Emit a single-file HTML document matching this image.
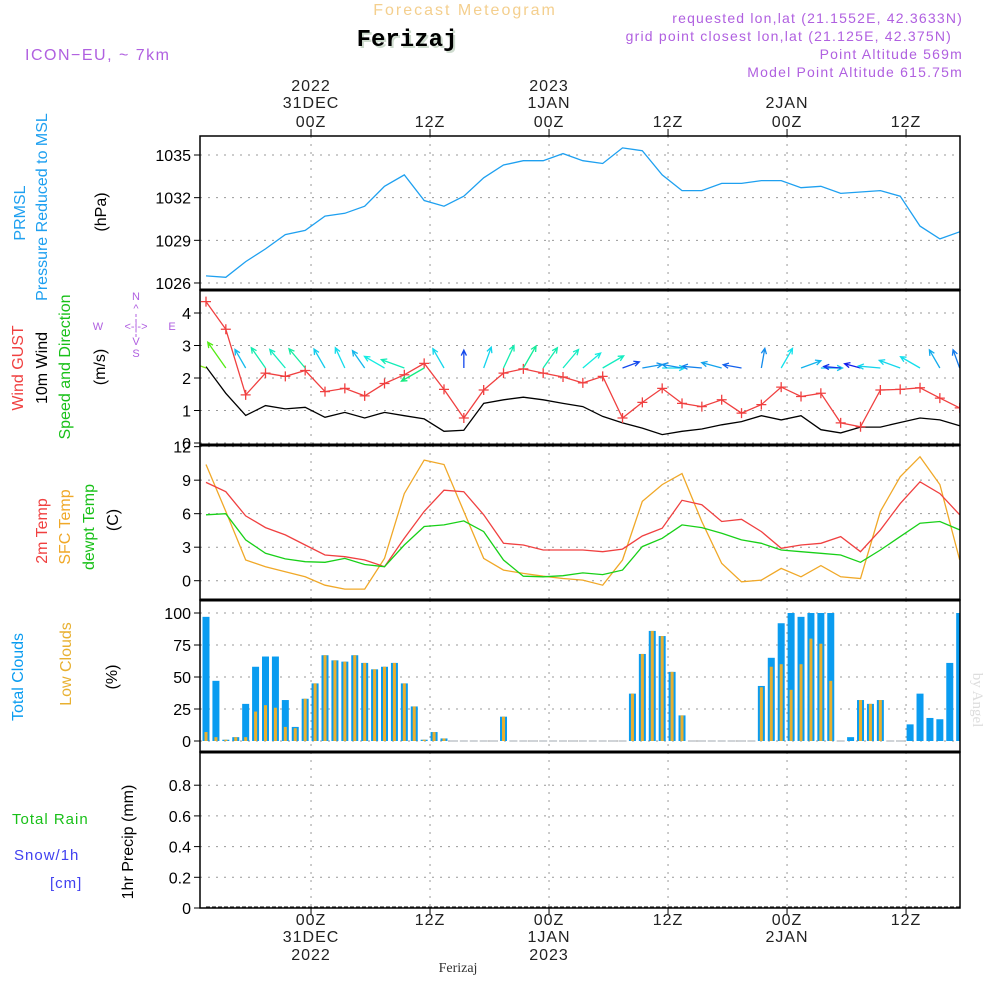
<!DOCTYPE html>
<html><head><meta charset="utf-8"><style>
html,body{margin:0;padding:0;background:#fff;}
svg{display:block;font-family:"Liberation Sans",sans-serif;}
</style></head><body>
<svg id="chart" width="1000" height="1000" viewBox="0 0 1000 1000">
<text x="465" y="15" font-size="16" fill="#f4cf8e" text-anchor="middle" letter-spacing="2">Forecast Meteogram</text>
<text x="409" y="48" font-size="24" font-weight="bold" font-family="Liberation Mono,monospace" fill="#cfdccf" text-anchor="middle">Ferizaj</text>
<text x="407" y="46" font-size="24" font-weight="bold" font-family="Liberation Mono,monospace" fill="#000" text-anchor="middle">Ferizaj</text>
<text x="25" y="60" font-size="16" fill="#b060e0" letter-spacing="1.5">ICON−EU, ~ 7km</text>
<g font-size="14" fill="#b060e0" text-anchor="end" letter-spacing="1.2">
<text x="963" y="23">requested lon,lat (21.1552E, 42.3633N)</text>
<text x="952" y="41">grid point closest lon,lat (21.125E, 42.375N)</text>
<text x="963" y="59">Point Altitude 569m</text>
<text x="963" y="77">Model Point Altitude 615.75m</text>
</g>
<g id="labels" font-size="16"></g>
<g id="plot"></g>
<text x="458" y="972" font-size="14" font-family="Liberation Serif,serif" fill="#333" text-anchor="middle">Ferizaj</text>
<text transform="translate(973,700) rotate(90)" font-size="15" font-family="Liberation Serif,serif" fill="#ddd" text-anchor="middle">by Angel</text>
</svg>
<script>
const pressure=[1026.5,1026.4,1027.5,1028.4,1029.4,1029.7,1030.7,1030.9,1031.4,1032.8,1033.6,1031.8,1031.4,1032.1,1033.4,1034.3,1034.6,1034.6,1035.1,1034.6,1034.4,1035.5,1035.3,1033.6,1032.5,1032.5,1033.0,1033.0,1033.2,1033.2,1032.7,1032.8,1032.3,1032.4,1032.5,1032.1,1030.0,1029.1,1029.6];
const gust=[4.35,3.5,1.48,2.15,2.05,2.23,1.58,1.68,1.45,1.83,2.1,2.45,1.65,0.77,1.63,2.15,2.28,2.15,2.03,1.85,2.05,0.77,1.25,1.68,1.22,1.12,1.33,0.92,1.18,1.72,1.43,1.53,0.62,0.5,1.63,1.65,1.7,1.38,1.08];
const wind=[2.35,1.53,0.85,1.15,1.05,1.1,0.79,0.94,0.77,0.94,0.84,0.74,0.36,0.39,1.22,1.33,1.41,1.33,1.22,1.12,0.82,0.62,0.46,0.26,0.36,0.43,0.56,0.66,0.84,0.71,0.84,0.41,0.31,0.49,0.49,0.63,0.77,0.71,0.53];
const windDir=[160,125,120,125,130,130,120,115,125,150,160,210,120,90,70,65,60,55,50,40,30,20,10,0,170,175,165,170,80,60,20,0,175,165,175,160,150,120,110];
const t2m=[8.8,7.97,5.8,4.75,4.1,3.2,2.3,2.15,1.85,1.25,3.8,6.2,8.1,7.97,5.9,3.35,3.2,2.75,2.75,2.75,2.6,2.83,4.0,4.7,7.2,6.8,5.3,5.5,4.4,2.9,3.2,3.35,3.95,2.6,4.55,6.9,8.85,7.8,5.9];
const tsfc=[10.4,6.2,1.85,1.25,0.8,0.35,-0.4,-0.75,-0.75,2.0,7.8,10.8,10.4,6.2,2.0,0.95,0.65,0.4,0.2,0.05,-0.4,1.85,7.1,8.6,9.6,5.3,1.55,-0.1,0.05,1.1,0.35,1.35,0.35,0.2,6.2,9.3,11.1,8.6,1.85];
const tdew=[5.9,6.0,3.65,2.45,1.95,1.7,1.65,2.0,1.45,1.25,3.2,4.85,5.0,5.35,4.4,1.85,0.4,0.35,0.45,0.7,0.55,0.95,3.05,3.8,5.0,4.75,4.25,3.65,3.35,2.75,2.6,2.45,2.3,1.65,2.75,3.95,5.15,5.3,4.55];
const totalClouds=[97,47,1,3,29,58,66,66,32,11,33,45,67,63,62,67,61,56,58,61,45,27,1,7,2,0,0,0,0,0,19,0,0,0,0,0,0,0,0,0,0,0,0,37,68,86,82,54,20,0,0,0,0,0,0,0,43,65,92,100,97,100,100,100,0,3,32,29,32,0,0,13,37,18,17,61,100];
const lowClouds=[7,3,1,3,3,23,28,26,11,10,33,45,67,63,62,67,61,56,58,61,45,27,1,7,2,0,0,0,0,0,19,0,0,0,0,0,0,0,0,0,0,0,0,37,68,86,82,54,20,0,0,0,0,0,0,0,42,58,60,40,60,80,76,47,0,0,32,29,32,0,0,0,0,0,0,0,0];
const precip=[0,0,0,0,0,0,0,0,0,0,0,0,0,0,0,0,0,0,0,0,0,0,0,0,0,0,0,0,0,0,0,0,0,0,0,0,0,0,0,0,0,0,0,0,0,0,0,0,0,0,0,0,0,0,0,0,0,0,0,0,0,0,0,0,0,0,0,0,0,0,0,0,0,0,0,0,0];
const pTicks=[1026,1029,1032,1035];
const wTicks=[0,1,2,3,4];
const tTicks=[0,3,6,9,12];
const cTicks=[0,25,50,75,100];
const rTicks=[0,0.2,0.4,0.6,0.8];
const rTickLabels=["0","0.2","0.4","0.6","0.8"];
const timeTicks=["00Z","12Z","00Z","12Z","00Z","12Z"];
const dayLabels=["31DEC","","1JAN","","2JAN",""];
const yearLabels=["2022","","2023","","",""];

const NS='http://www.w3.org/2000/svg';
const plot=document.getElementById('plot');
const labels=document.getElementById('labels');
const X0=200,X1=960;
const xh=h=>206+9.917*h;
const first00=10.59;
function mk(tag,attrs,parent){const e=document.createElementNS(NS,tag);for(const k in attrs)e.setAttribute(k,attrs[k]);(parent||plot).appendChild(e);return e;}
const panels=[
 {top:136,bot:290,y:v=>155+(1035-v)*14.22,ticks:pTicks,name:'pressure'},
 {top:290,bot:445,y:v=>443-v*32.5,ticks:wTicks,name:'wind'},
 {top:445,bot:600,y:v=>580.7-v*11.17,ticks:tTicks,name:'temperature'},
 {top:600,bot:752,y:v=>741-v*1.28,ticks:cTicks,name:'clouds'},
 {top:752,bot:908,y:v=>908-v*153.5,ticks:rTicks,name:'precip'}
];
panels.forEach(p=>{
 const g=mk('g',{});
 
 
 p.ticks.forEach((t,k)=>{
  const y=p.y(t);
  const l=mk('line',{x1:X0,x2:X1,y1:y,y2:y,stroke:'#999','stroke-dasharray':'2,6'},g);
  
  
  mk('line',{x1:X0-6,x2:X0,y1:y,y2:y,stroke:'#000'},g);
  const tx=mk('text',{x:X0-9,y:y+6,'font-size':16,'text-anchor':'end',fill:'#000'},g);
  tx.textContent=p.name==='precip'?rTickLabels[k]:String(t);
  
  
 });
 timeTicks.forEach((t,i)=>{
  const x=xh(first00+12*i);
  const l=mk('line',{x1:x,x2:x,y1:p.top,y2:p.bot,stroke:'#999','stroke-dasharray':'2,6'},g);
  
  
 });
 p.g=g;
});
timeTicks.forEach((t,i)=>{
 const x=xh(first00+12*i);
 mk('line',{x1:x,x2:x,y1:129,y2:136,stroke:'#000'});
 mk('line',{x1:x,x2:x,y1:908,y2:915,stroke:'#000'});
 const rows=[[yearLabels[i],91,960],[dayLabels[i],108,942],[t,127,925]];
 rows.forEach(r=>{
  if(!r[0])return;
  const a=mk('text',{x:x,y:r[1],'font-size':16,'text-anchor':'middle',fill:'#222','letter-spacing':1});
  a.textContent=r[0];
  
  
  const b=mk('text',{x:x,y:r[2],'font-size':16,'text-anchor':'middle',fill:'#222','letter-spacing':1});
  b.textContent=r[0];
  
  
 });
});
mk('defs',{}).innerHTML='<clipPath id="clip"><rect x="200" y="136" width="760" height="772"/></clipPath>';
const series=mk('g',{'clip-path':'url(#clip)'});
function line(arr,p,color,name,step){
 const pts=arr.map((v,i)=>xh(i*step).toFixed(1)+','+p.y(v).toFixed(1)).join(' ');
 const e=mk('polyline',{points:pts,fill:'none',stroke:color,'stroke-width':1.3},series);
 
 
 return e;
}
line(pressure,panels[0],'#1ea0f0','pressure-line',2);
line(wind,panels[1],'#000','wind-speed-line',2);
line(gust,panels[1],'#f04040','wind-gust-line',2);
gust.forEach((v,i)=>{
 const x=xh(i*2),y=panels[1].y(v);
 const m=mk('path',{d:`M${x-5},${y}H${x+5}M${x},${y-5}V${y+5}`,stroke:'#f04040','stroke-width':1.3},series);
 
 
});
windDir.forEach((d,i)=>{
 const x=xh(i*2),y=368;
 const len=14+gust[i]*5;
 const r=d*Math.PI/180;
 const x2=x+len*Math.cos(r),y2=y-len*Math.sin(r);
 const hue=Math.max(90,Math.min(270,260-gust[i]*45));
 const col=`hsl(${hue},85%,50%)`;
 const a1=r+Math.PI-0.45,a2=r+Math.PI+0.45;
 const ar=mk('path',{d:`M${x},${y}L${x2},${y2}M${x2+6*Math.cos(a1)},${y2-6*Math.sin(a1)}L${x2},${y2}L${x2+6*Math.cos(a2)},${y2-6*Math.sin(a2)}`,stroke:col,fill:'none','stroke-width':1.3},series);
 
 
});
line(tsfc,panels[2],'#f0a828','sfc-temp-line',2);
line(t2m,panels[2],'#f04040','temp-2m-line',2);
line(tdew,panels[2],'#18d018','dewpoint-line',2);
const cp=panels[3];
totalClouds.forEach((v,i)=>{
 const x=xh(i);
 const b=mk('rect',{x:x-3.5,y:cp.y(v),width:7,height:Math.max(0,cp.y(0)-cp.y(v)),fill:'#0a9cf0'},series);
 
 
 const lv=lowClouds[i];
 const c=mk('rect',{x:x-1.5,y:cp.y(lv),width:3,height:Math.max(0,cp.y(0)-cp.y(lv)),fill:'#e8b030'},series);
 
 
 if(v===0){mk('line',{x1:x-4,x2:x+4,y1:cp.y(0),y2:cp.y(0),stroke:'#a0a8b0'},series);}
});
const rp=panels[4];
const pl=mk('polyline',{points:precip.map((v,i)=>xh(i)+','+(rp.y(v)-1)).join(' '),fill:'none',stroke:'#333','stroke-dasharray':'4,2','stroke-width':1.3},series);


panels.forEach(p=>{
 const r=mk('rect',{x:X0,y:p.top,width:X1-X0,height:p.bot-p.top,fill:'none',stroke:'#000','stroke-width':1.5});
 
 
});
[290,445,600,752].forEach(y=>mk('line',{x1:X0,x2:X1,y1:y,y2:y,stroke:'#000','stroke-width':3}));
function vlab(txt,x,y,col,name){
 const t=mk('text',{transform:`translate(${x},${y}) rotate(-90)`,'text-anchor':'middle',fill:col,'font-size':16},labels);
 t.textContent=txt;
 
 
}
vlab('PRMSL',25,213,'#1ea0f0','pressure-label-short');
vlab('Pressure Reduced to MSL',47,207,'#1ea0f0','pressure-label');
vlab('(hPa)',106,212,'#000','pressure-unit');
vlab('Wind GUST',23,368,'#f04040','gust-label');
vlab('10m Wind',47,368,'#000','wind-label');
vlab('Speed and Direction',70,367,'#18c018','wind-dir-label');
vlab('(m/s)',105,367,'#000','wind-unit');
vlab('2m Temp',47,531,'#f04040','temp-2m-label');
vlab('SFC Temp',70,527,'#f0a828','sfc-temp-label');
vlab('dewpt Temp',94,527,'#18c018','dewpoint-label');
vlab('(C)',118,520,'#000','temp-unit');
vlab('Total Clouds',23,677,'#0a9cf0','total-clouds-label');
vlab('Low Clouds',71,664,'#e8b030','low-clouds-label');
vlab('(%)',117,677,'#000','clouds-unit');
vlab('1hr Precip (mm)',133,842,'#000','precip-label');
function hlab(txt,x,y,col,name){
 const t=mk('text',{x:x,y:y,fill:col,'font-size':15,'letter-spacing':1},labels);
 t.textContent=txt;
 
 
}
hlab('Total  Rain',12,824,'#18c018','rain-label');
hlab('Snow/1h',14,860,'#4040f0','snow-label');
hlab('[cm]',50,888,'#4040f0','snow-unit');
const cg=mk('g',{fill:'#b060e0','font-size':11,'text-anchor':'middle'},labels);


cg.innerHTML='<text x="136" y="300">N</text><text x="136" y="312">^</text><text x="98" y="330">W</text><text x="136" y="330">&lt;-|-&gt;</text><text x="172" y="330">E</text><text x="136" y="345">V</text><text x="136" y="357">S</text><line x1="136" y1="314" x2="136" y2="338" stroke="#b060e0" stroke-dasharray="3,2"/>';
</script>
</body></html>
